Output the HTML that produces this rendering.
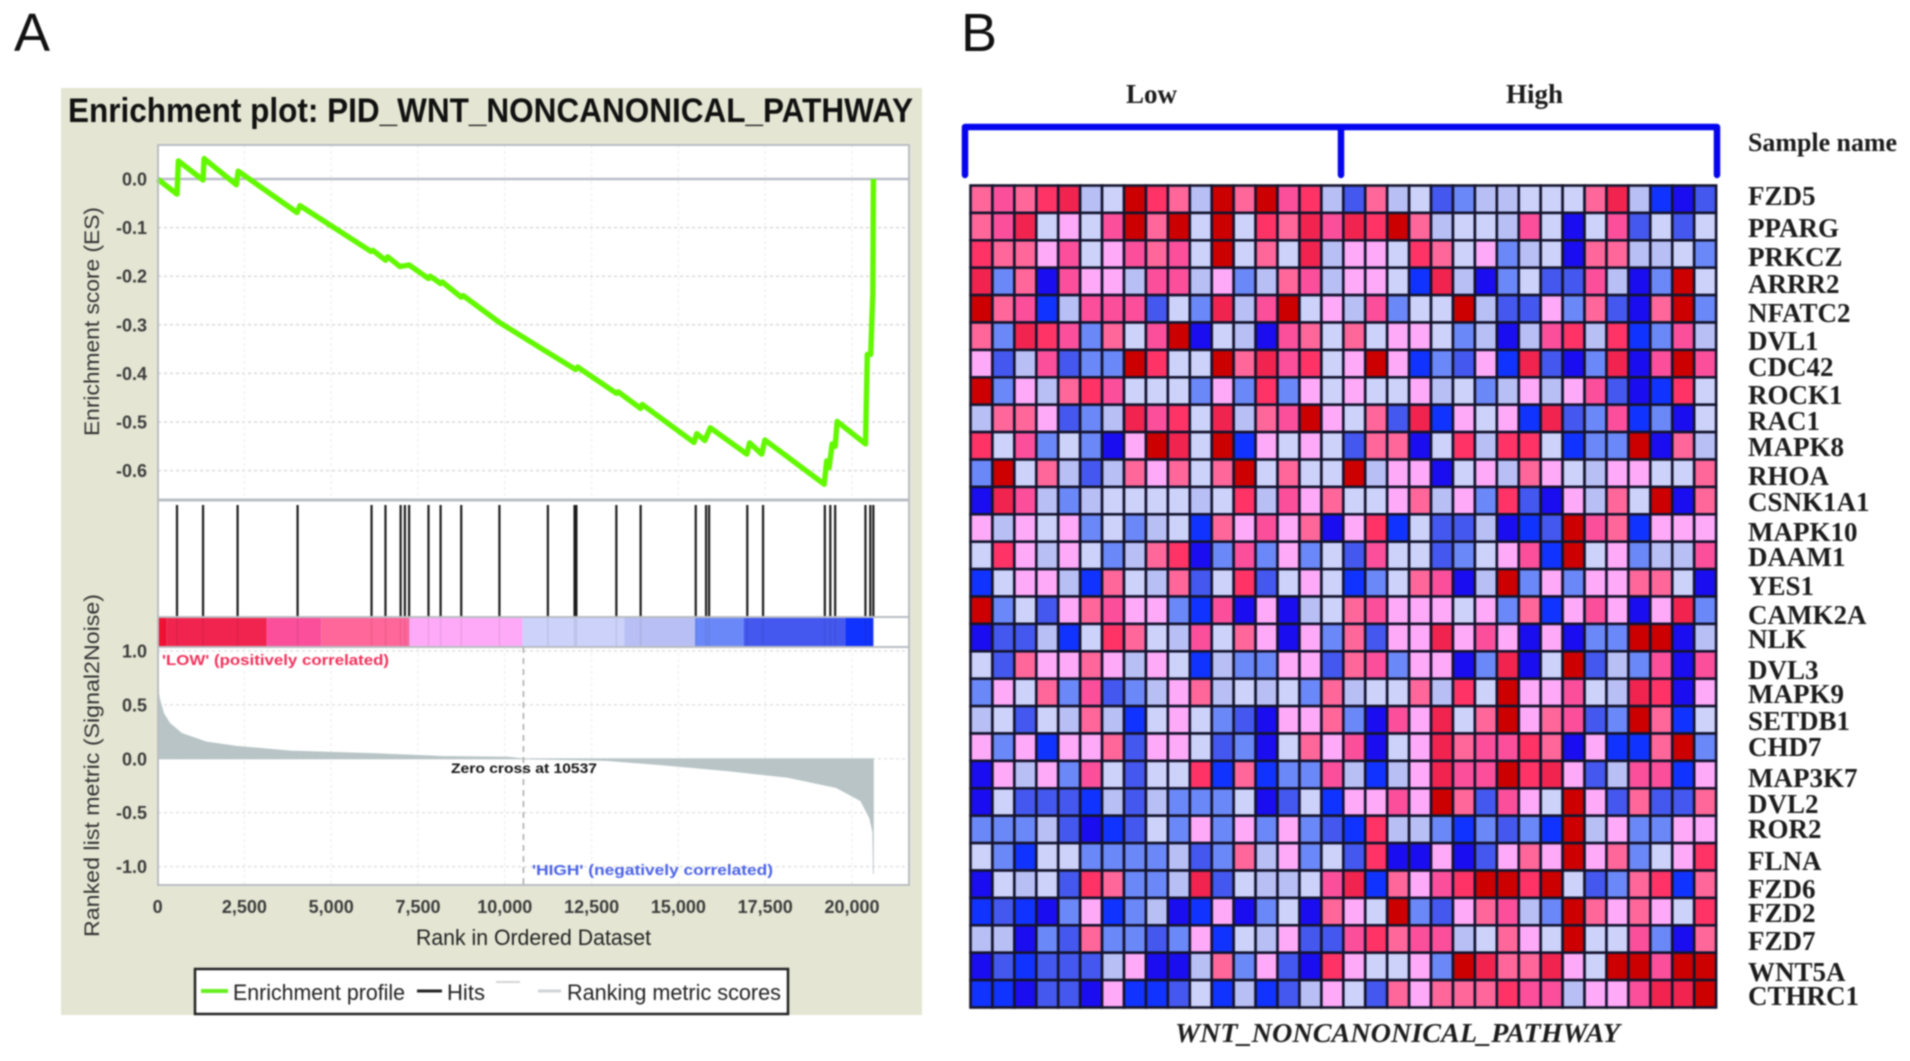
<!DOCTYPE html>
<html lang="en">
<head>
<meta charset="utf-8">
<title>Enrichment plot and heatmap</title>
<style>
html,body{margin:0;padding:0;background:#fff;width:1910px;height:1061px;overflow:hidden}
svg{display:block;filter:blur(0.85px)}
text{font-family:"Liberation Sans",sans-serif}
.serif{font-family:"Liberation Serif",serif;font-weight:bold;fill:#1c1c1c}
.tick{font-size:18px;font-weight:bold;fill:#3c3c3c}
.axt{font-size:21px;fill:#333}
</style>
</head>
<body>
<svg id="fig" xmlns="http://www.w3.org/2000/svg" width="1910" height="1061" viewBox="0 0 1910 1061">
<rect width="1910" height="1061" fill="#fff"/>
<text x="14" y="51" font-size="54" fill="#111">A</text>
<text x="961" y="51" font-size="54" fill="#111">B</text>

<g>
<rect x="61" y="88" width="861" height="927" fill="#e4e6d3"/>
<text x="68" y="122" font-size="34" font-weight="bold" fill="#111" textLength="845" lengthAdjust="spacingAndGlyphs">Enrichment plot: PID_WNT_NONCANONICAL_PATHWAY</text>
<rect x="158" y="145" width="751" height="740" fill="#fff"/>
<g id="esGrid"></g>
<g id="metricGrid"></g>
<g id="band"></g>
<g id="metricArea"></g>
<g id="hits"></g>
<g id="esLine"></g>
<line x1="158" x2="909" y1="500" y2="500" stroke="#b9bdc2" stroke-width="3"/>
<line x1="158" x2="909" y1="617" y2="617" stroke="#b9bdc2" stroke-width="2"/>
<line x1="158" x2="909" y1="647" y2="647" stroke="#b9bdc2" stroke-width="2"/>
<rect x="158" y="145" width="751" height="740" fill="none" stroke="#b9bdc2" stroke-width="2"/>
<g id="ticks"></g>
<text class="axt" transform="translate(99,436) rotate(-90)" textLength="229" lengthAdjust="spacingAndGlyphs">Enrichment score (ES)</text>
<text class="axt" transform="translate(99,937) rotate(-90)" textLength="343" lengthAdjust="spacingAndGlyphs">Ranked list metric (Signal2Noise)</text>
<text x="416" y="945" font-size="22" fill="#222" textLength="235" lengthAdjust="spacingAndGlyphs">Rank in Ordered Dataset</text>
<text x="162" y="665" font-size="15" font-weight="bold" fill="#f0305a" textLength="227" lengthAdjust="spacingAndGlyphs">'LOW' (positively correlated)</text>
<text x="532" y="875" font-size="15" font-weight="bold" fill="#4a62e6" textLength="241" lengthAdjust="spacingAndGlyphs">'HIGH' (negatively correlated)</text>
<text x="451" y="773" font-size="14" font-weight="bold" fill="#111" textLength="146" lengthAdjust="spacingAndGlyphs">Zero cross at 10537</text>
<g>
<rect x="195" y="969" width="593" height="45" fill="#fff" stroke="#222" stroke-width="2.5"/>
<line x1="201" x2="228" y1="991" y2="991" stroke="#66f020" stroke-width="4"/>
<text x="233" y="1000" font-size="22" fill="#222" textLength="172" lengthAdjust="spacingAndGlyphs">Enrichment profile</text>
<line x1="417" x2="442" y1="991" y2="991" stroke="#222" stroke-width="3"/>
<text x="447" y="1000" font-size="22" fill="#222" textLength="38" lengthAdjust="spacingAndGlyphs">Hits</text>
<line x1="496" x2="520" y1="982" y2="982" stroke="#d4d4d4" stroke-width="2"/>
<line x1="538" x2="561" y1="991" y2="991" stroke="#d0d4d6" stroke-width="3"/>
<text x="567" y="1000" font-size="22" fill="#222" textLength="214" lengthAdjust="spacingAndGlyphs">Ranking metric scores</text>
</g>
</g>

<g>
<text class="serif" x="1126" y="103" font-size="27">Low</text>
<text class="serif" x="1506" y="103" font-size="27">High</text>
<path d="M965 175V127H1717V175M1341 127V175" fill="none" stroke="#0505f0" stroke-width="6.5" stroke-linecap="round" stroke-linejoin="round"/>
<g id="heat"></g>
<text class="serif" x="1748" y="151" font-size="26" textLength="149" lengthAdjust="spacingAndGlyphs">Sample name</text>
<g class="serif" font-size="27">
<text class="serif" x="1748" y="205">FZD5</text>
<text class="serif" x="1748" y="237">PPARG</text>
<text class="serif" x="1748" y="266">PRKCZ</text>
<text class="serif" x="1748" y="293">ARRR2</text>
<text class="serif" x="1748" y="322">NFATC2</text>
<text class="serif" x="1748" y="350">DVL1</text>
<text class="serif" x="1748" y="376">CDC42</text>
<text class="serif" x="1748" y="404">ROCK1</text>
<text class="serif" x="1748" y="430">RAC1</text>
<text class="serif" x="1748" y="456">MAPK8</text>
<text class="serif" x="1748" y="485">RHOA</text>
<text class="serif" x="1748" y="511">CSNK1A1</text>
<text class="serif" x="1748" y="541">MAPK10</text>
<text class="serif" x="1748" y="566">DAAM1</text>
<text class="serif" x="1748" y="595">YES1</text>
<text class="serif" x="1748" y="624">CAMK2A</text>
<text class="serif" x="1748" y="648">NLK</text>
<text class="serif" x="1748" y="679">DVL3</text>
<text class="serif" x="1748" y="703">MAPK9</text>
<text class="serif" x="1748" y="730">SETDB1</text>
<text class="serif" x="1748" y="756">CHD7</text>
<text class="serif" x="1748" y="787">MAP3K7</text>
<text class="serif" x="1748" y="813">DVL2</text>
<text class="serif" x="1748" y="838">ROR2</text>
<text class="serif" x="1748" y="870">FLNA</text>
<text class="serif" x="1748" y="898">FZD6</text>
<text class="serif" x="1748" y="922">FZD2</text>
<text class="serif" x="1748" y="950">FZD7</text>
<text class="serif" x="1748" y="981">WNT5A</text>
<text class="serif" x="1748" y="1005">CTHRC1</text>
</g>
<text class="serif" x="1175" y="1042" font-size="27" font-style="italic" textLength="445" lengthAdjust="spacingAndGlyphs">WNT_NONCANONICAL_PATHWAY</text>
</g>
</svg>

<script>
var esTicks = [0, -0.1, -0.2, -0.3, -0.4, -0.5, -0.6];
var metricTicks = [1, 0.5, 0, -0.5, -1];
var rankTicks = [0, 2500, 5000, 7500, 10000, 12500, 15000, 17500, 20000];
var zeroCross = [10537];

var esRanks = [0,559,600,1309,1340,2270,2320,4015,4100,6144,6200,6563,6630,6980,7244,7802,7850,8151,8200,8745,8800,9845,11170,12040,12100,13213,13270,13912,13960,15450,15530,15760,15920,16970,17050,17400,17490,19200,19270,19340,19430,19515,19570,20390,20440,20540,20600,20615];
var esValues = [0,-0.031,0.037,-0.002,0.042,-0.012,0.016,-0.069,-0.055,-0.149,-0.147,-0.167,-0.16,-0.18,-0.177,-0.205,-0.2,-0.215,-0.212,-0.243,-0.24,-0.295,-0.354,-0.392,-0.387,-0.441,-0.438,-0.472,-0.464,-0.542,-0.524,-0.538,-0.512,-0.566,-0.543,-0.566,-0.537,-0.628,-0.58,-0.594,-0.545,-0.55,-0.499,-0.545,-0.361,-0.361,-0.236,0];

var hitRanks = [559,1309,2304,4032,6162,6563,7000,7122,7244,7802,8151,8745,9845,11241,12009,12062,13213,13912,15500,15797,15884,16984,17438,19218,19375,19515,20387,20527,20615];

var metricRanks = [0,0,60,175,349,698,1396,2270,3840,6284,8204,10090,10537,12916,14400,16400,18150,19550,20250,20510,20600,20615,20616];
var metricValues = [0,0.66,0.55,0.42,0.33,0.236,0.157,0.116,0.072,0.047,0.022,0.016,0,-0.016,-0.053,-0.11,-0.173,-0.267,-0.39,-0.55,-0.68,-1.07,0];

var bandEdges = [0,262,3142,4713,7244,10508,13440,15482,16879,19811,20615];
var bandLevels = [0,1,3,4,5,6,7,8,9,10];

var expressionLevels = [
[4,3,4,2,1,7,6,0,2,4,7,0,4,0,3,2,7,9,4,7,6,9,8,7,7,6,6,6,4,1,7,10,11,9],
[4,3,1,6,5,6,3,0,4,0,6,0,6,2,4,1,3,1,2,0,4,7,6,6,7,3,6,11,6,3,9,6,9,6],
[2,4,4,5,3,6,5,3,4,3,6,0,6,4,6,1,7,5,5,6,2,4,6,5,8,7,6,11,4,4,7,7,6,8],
[1,8,4,11,3,5,5,7,3,3,7,5,8,7,4,3,7,5,5,6,10,1,7,11,8,6,9,9,3,7,11,8,0,6],
[0,4,3,10,7,3,3,3,9,6,8,1,7,3,0,6,5,7,3,8,6,6,0,7,9,9,5,8,4,9,11,4,0,8],
[4,8,1,2,3,8,4,6,3,0,11,6,7,11,3,4,6,4,6,5,5,6,8,7,11,7,3,2,7,2,10,8,3,7],
[5,9,7,3,9,8,8,0,2,6,6,0,4,1,3,2,6,5,0,5,10,8,9,5,10,1,9,11,8,1,11,3,0,3],
[0,8,5,7,4,2,3,6,6,6,8,5,8,2,8,5,6,5,6,6,5,7,6,8,7,5,7,5,3,9,11,10,2,6],
[7,4,4,5,9,8,7,1,3,2,6,1,7,4,3,0,5,6,4,9,1,10,5,6,5,10,1,9,8,3,10,8,11,6],
[2,6,3,8,6,8,11,5,0,1,6,0,10,5,6,5,6,9,4,4,11,6,2,7,2,2,6,10,8,8,0,11,4,7],
[8,0,6,4,7,9,7,4,5,4,6,4,0,6,4,6,6,0,7,5,5,11,6,5,7,4,5,6,7,5,5,6,6,4],
[11,1,3,7,8,7,6,6,6,6,7,6,2,7,3,5,4,6,6,5,4,7,5,8,2,9,11,5,7,4,6,0,11,4],
[5,7,5,6,5,8,6,8,7,6,10,4,5,3,5,4,11,5,2,10,6,9,9,7,11,10,9,0,3,4,10,5,5,5],
[6,2,5,7,5,6,8,7,4,2,11,8,3,8,5,8,6,9,3,6,6,9,8,6,5,3,10,0,6,5,8,7,7,3],
[10,6,5,5,7,10,4,6,7,4,9,6,2,9,6,5,6,10,8,6,4,3,11,7,0,8,5,8,5,5,4,4,6,11],
[0,8,6,9,5,4,3,5,5,8,10,3,11,5,11,7,6,4,3,5,5,5,6,5,8,4,10,5,3,5,11,5,1,8],
[11,9,9,7,10,6,2,4,6,7,3,6,4,5,11,5,8,4,9,5,5,1,5,3,5,11,5,11,8,8,0,0,11,7],
[6,9,4,5,5,4,5,7,5,6,10,7,8,8,5,5,9,4,3,8,5,5,11,8,1,11,6,0,9,7,8,3,11,3],
[8,5,6,4,8,3,9,8,7,5,4,7,6,7,6,8,4,7,6,6,4,7,2,6,0,5,5,3,6,7,1,2,11,5],
[7,6,9,6,7,4,7,10,6,5,6,8,9,11,5,5,4,8,11,3,5,1,6,4,0,5,4,3,9,8,0,4,10,6],
[5,8,5,10,5,5,4,9,5,5,6,9,8,11,6,4,5,3,11,6,5,1,4,3,3,2,4,11,5,10,10,4,0,8],
[11,5,7,5,8,3,6,9,6,6,2,10,4,10,8,8,3,7,10,7,5,1,3,3,0,2,1,5,9,7,3,3,10,5],
[11,6,9,9,9,10,7,9,7,8,8,8,6,11,9,6,10,5,5,3,5,0,4,9,3,5,6,0,5,9,4,9,9,4],
[8,8,8,7,9,11,10,9,6,8,5,8,5,8,5,8,9,10,2,7,7,8,10,8,9,8,10,0,7,5,8,8,5,5],
[6,8,10,6,6,8,8,8,8,7,9,8,4,7,5,8,6,9,2,11,11,5,11,9,5,4,5,0,5,4,8,6,5,2],
[11,6,7,6,9,2,4,8,8,7,1,9,6,7,7,6,3,1,10,4,5,3,2,0,0,2,0,6,9,8,4,2,10,4],
[10,9,10,11,8,5,10,8,7,11,10,5,11,8,6,11,4,5,6,0,8,9,5,4,3,7,8,0,4,5,4,5,6,2],
[7,7,11,8,9,4,8,8,9,8,5,10,6,7,5,9,9,3,2,4,3,3,7,6,4,5,6,0,6,6,3,8,11,4],
[11,9,10,9,9,9,7,5,11,11,7,4,8,5,9,11,2,5,6,6,5,8,0,1,4,4,1,5,6,0,0,3,0,0],
[10,10,11,9,9,11,5,10,10,9,6,10,7,10,9,7,5,6,9,4,5,4,4,4,2,3,3,7,5,5,3,1,1,0]
];

var NS = 'http://www.w3.org/2000/svg';
function mk(tag, attrs, parent) {
  var el = document.createElementNS(NS, tag);
  for (var k in attrs) el.setAttribute(k, attrs[k]);
  parent.appendChild(el);
  return el;
}
function xRank(r) { return 157.6 + r / 2500 * 86.8; }
function yES(v) { return 179 - v * 486; }
function yMetric(v) { return 758.8 - v * 107.8; }
function heatColor(level) {
  var scale = ['#cc0000','#f0244f','#ff3366','#fb4f9c','#ff6699','#ffaaf8','#ccd2fa','#b8bff5','#6b88f8','#4458f0','#1133ff','#1a0df0'];
  return scale[Math.max(0, Math.min(11, Math.round(level)))];
}
function linePath(xs, ys, fx, fy) {
  var d = '';
  for (var i = 0; i < xs.length; i++) d += (i ? 'L' : 'M') + fx(xs[i]).toFixed(1) + ' ' + fy(ys[i]).toFixed(1);
  return d;
}

var esGrid = document.getElementById('esGrid');
esTicks.forEach(function (t) {
  var g = mk('line', {x1: 158, x2: 909, y1: yES(t), y2: yES(t), stroke: t === 0 ? '#b9bcc8' : '#d9d9d9', 'stroke-width': t === 0 ? 2.5 : 1.5, 'stroke-dasharray': t === 0 ? 'none' : '3 3'}, esGrid);
  
  
});
var metricGrid = document.getElementById('metricGrid');
metricTicks.forEach(function (t) {
  var g = mk('line', {x1: 158, x2: 909, y1: yMetric(t), y2: yMetric(t), stroke: '#dcdcdc', 'stroke-width': 1.2, 'stroke-dasharray': '3 3'}, metricGrid);
  
  
});
rankTicks.forEach(function (t) {
  var a = mk('line', {x1: xRank(t), x2: xRank(t), y1: 145, y2: 500, stroke: '#ececec', 'stroke-width': 1, 'stroke-dasharray': '3 3'}, esGrid);
  
  
  var b = mk('line', {x1: xRank(t), x2: xRank(t), y1: 647, y2: 885, stroke: '#ececec', 'stroke-width': 1, 'stroke-dasharray': '3 3'}, metricGrid);
  
  
});

var band = document.getElementById('band');
bandLevels.forEach(function (lv, i) {
  var r = mk('rect', {x: xRank(bandEdges[i]), y: 618, width: xRank(bandEdges[i + 1]) - xRank(bandEdges[i]), height: 29, fill: i === 0 ? '#ee1133' : heatColor(lv)}, band);
  
  
});

var metricArea = document.getElementById('metricArea');
var area = mk('path', {d: linePath(metricRanks, metricValues, xRank, yMetric) + 'Z', fill: '#b8c4c6', stroke: '#b8c4c6', 'stroke-width': 0.8}, metricArea);


zeroCross.forEach(function (z) {
  var zl = mk('line', {x1: xRank(z), x2: xRank(z), y1: 647, y2: 885, stroke: '#a8a8a8', 'stroke-width': 1.5, 'stroke-dasharray': '6 5'}, metricArea);
  
  
});

var hits = document.getElementById('hits');
hitRanks.forEach(function (r) {
  var h = mk('line', {x1: xRank(r), x2: xRank(r), y1: 505, y2: 617, stroke: '#1c1c1c', 'stroke-width': 2.2}, hits);
  
  
  var s = mk('line', {x1: xRank(r), x2: xRank(r), y1: 618, y2: 647, stroke: '#000', 'stroke-opacity': 0.08, 'stroke-width': 1.5}, hits);
  
  
});

var esLine = mk('path', {d: linePath(esRanks, esValues, xRank, yES), fill: 'none', stroke: '#62f800', 'stroke-width': 5.4, 'stroke-linejoin': 'round'}, document.getElementById('esLine'));



var ticks = document.getElementById('ticks');
function fmtRank(v) { return String(v).replace(/(\d)(\d{3})$/, '$1,$2'); }
esTicks.forEach(function (t) {
  var tx = mk('text', {x: 147, y: yES(t) + 6.5, 'text-anchor': 'end', class: 'tick'}, ticks);
  tx.textContent = t.toFixed(1);
  
  
});
metricTicks.forEach(function (t) {
  var tx = mk('text', {x: 147, y: yMetric(t) + 6.5, 'text-anchor': 'end', class: 'tick'}, ticks);
  tx.textContent = t.toFixed(1);
  
  
});
rankTicks.forEach(function (t) {
  var tx = mk('text', {x: xRank(t), y: 913, 'text-anchor': 'middle', class: 'tick'}, ticks);
  tx.textContent = fmtRank(t);
  
  
});

var heat = document.getElementById('heat');
function xCol(c) { return 970.5 + c * 21.93; }
function yRow(r) { return 185.5 + r * 27.4; }
expressionLevels.forEach(function (row, r) {
  row.forEach(function (v, c) {
    var cell = mk('rect', {x: xCol(c), y: yRow(r), width: 21.93, height: 27.4, fill: heatColor(v), stroke: '#14142e', 'stroke-width': 2.6}, heat);
    
    
  });
});
</script>
</body>
</html>
